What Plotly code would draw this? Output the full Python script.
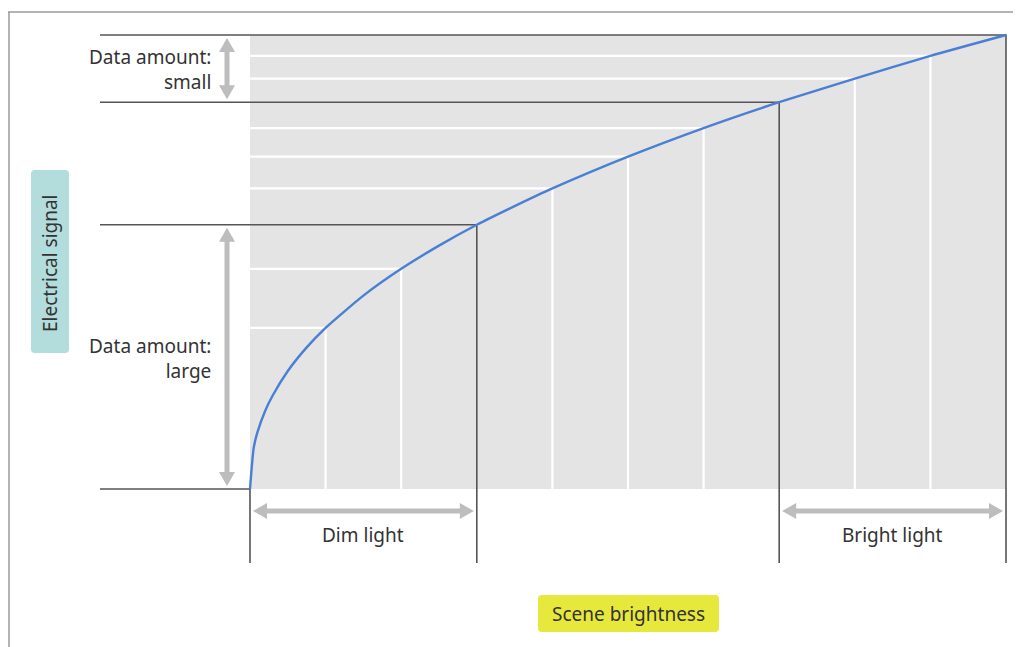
import plotly.graph_objects as go

# ---------------- data ----------------
# scene brightness (0..10, ten equal divisions) vs electrical signal (0..100)
brightness = [0, 0.05, 0.1, 0.2, 0.3, 0.5, 0.75, 1, 1.5, 2, 2.5, 3, 3.5, 4, 5, 6, 7, 8, 9, 10]
signal = [0, 9.2, 12.6, 17.2, 20.6, 26.0, 31.2, 35.5, 42.6, 48.5, 53.6, 58.2, 62.3, 66.2,
          73.2, 79.5, 85.2, 90.4, 95.4, 100]
grid_steps = [1, 2, 3, 4, 5, 6, 7, 8, 9]
dim_limit = 3       # end of "Dim light"
bright_limit = 7    # start of "Bright light"
x_max = 10
y_max = 100

y_label = "Electrical signal"
x_label = "Scene brightness"
small_label = "Data amount:<br>small"
large_label = "Data amount:<br>large"
dim_label = "Dim light"
bright_label = "Bright light"

# ---------------- page geometry ----------------
PAGE_W, PAGE_H = 1021, 647
OFF = 8                      # browser body margin
W, H = PAGE_W - OFF, PAGE_H - OFF
PX_L, PX_R, PX_B, PX_T = 250, 1006, 489, 35
SX = (PX_R - PX_L) / x_max
SY = (PX_B - PX_T) / y_max


def ux(px):
    return (px - PX_L) / SX


def uy(py):
    return (PX_B - py) / SY


def tpx(x):
    return PX_L + x * SX


def tpy(y):
    return PX_B - y * SY


def sig(x):
    return signal[brightness.index(x)]


GRAY = "#e4e4e4"
DARK = "#555555"
ARROW = "#bdbdbd"
TEXT = "#333333"
FONT = "Noto Sans"

fig = go.Figure()
shapes = []
annotations = []

# gray panel
shapes.append(dict(type="rect", x0=0, x1=x_max, y0=0, y1=y_max, fillcolor=GRAY,
                   line=dict(width=0), layer="below"))

# outer frame (top and left)
shapes.append(dict(type="line", x0=ux(8), x1=ux(PAGE_W + 5), y0=uy(12), y1=uy(12),
                   line=dict(color="#9a9a9a", width=1.5)))
shapes.append(dict(type="line", x0=ux(9), x1=ux(9), y0=uy(12), y1=uy(PAGE_H + 5),
                   line=dict(color="#9a9a9a", width=1.5)))

left_ext = ux(100)
bottom_ext = uy(563)

# white grid lines (horizontal to curve, vertical from curve down)
for k in grid_steps:
    if k in (dim_limit, bright_limit):
        continue
    yk = sig(k)
    fig.add_trace(go.Scatter(x=[0, k, k], y=[yk, yk, 0], mode="lines",
                             line=dict(color="white", width=2.2), hoverinfo="skip",
                             showlegend=False))

# dark guide lines
for k in (dim_limit, bright_limit):
    yk = sig(k)
    fig.add_trace(go.Scatter(x=[left_ext, k, k], y=[yk, yk, bottom_ext], mode="lines",
                             line=dict(color=DARK, width=1.6), hoverinfo="skip",
                             showlegend=False))
fig.add_trace(go.Scatter(x=[left_ext, x_max, x_max], y=[y_max, y_max, bottom_ext], mode="lines",
                         line=dict(color=DARK, width=1.6), hoverinfo="skip", showlegend=False))
fig.add_trace(go.Scatter(x=[left_ext, 0, 0], y=[0, 0, bottom_ext], mode="lines",
                         line=dict(color=DARK, width=1.6), hoverinfo="skip", showlegend=False))

# the response curve
fig.add_trace(go.Scatter(x=brightness, y=signal, mode="lines",
                         line=dict(color="#4a7fd6", width=2.4, shape="spline", smoothing=0.6),
                         hoverinfo="skip", showlegend=False))


# double-headed arrows (drawn in pixel space, converted to data units)
def darrow(p0, p1, inset=3, head_len=14, head_w=16, lw=5):
    (x0, y0), (x1, y1) = p0, p1
    L = ((x1 - x0) ** 2 + (y1 - y0) ** 2) ** 0.5
    ux_, uy_ = (x1 - x0) / L, (y1 - y0) / L
    nx, ny = -uy_, ux_
    a = (x0 + ux_ * inset, y0 + uy_ * inset)
    b = (x1 - ux_ * inset, y1 - uy_ * inset)
    shapes.append(dict(type="line",
                       x0=ux(a[0] + ux_ * (head_len - 2)), y0=uy(a[1] + uy_ * (head_len - 2)),
                       x1=ux(b[0] - ux_ * (head_len - 2)), y1=uy(b[1] - uy_ * (head_len - 2)),
                       line=dict(color=ARROW, width=lw)))
    for tip, d in ((a, 1), (b, -1)):
        bx, by = tip[0] + d * ux_ * head_len, tip[1] + d * uy_ * head_len
        pts = [tip, (bx + nx * head_w / 2, by + ny * head_w / 2),
               (bx - nx * head_w / 2, by - ny * head_w / 2)]
        path = "M {} {} L {} {} L {} {} Z".format(
            ux(pts[0][0]), uy(pts[0][1]), ux(pts[1][0]), uy(pts[1][1]),
            ux(pts[2][0]), uy(pts[2][1]))
        shapes.append(dict(type="path", path=path, fillcolor=ARROW, line=dict(width=0)))


ax_px = 227
darrow((ax_px, tpy(y_max)), (ax_px, tpy(sig(bright_limit))))
darrow((ax_px, tpy(sig(dim_limit))), (ax_px, tpy(0)))
ay_px = 511
darrow((tpx(0), ay_px), (tpx(dim_limit), ay_px))
darrow((tpx(bright_limit), ay_px), (tpx(x_max), ay_px))

# text labels
FS = 19
annotations.append(dict(x=ux(213), y=uy(69), text=small_label,
                        xanchor="right", yanchor="middle", align="right", showarrow=False,
                        font=dict(family=FONT, size=FS, color=TEXT)))
annotations.append(dict(x=ux(213), y=uy(358), text=large_label,
                        xanchor="right", yanchor="middle", align="right", showarrow=False,
                        font=dict(family=FONT, size=FS, color=TEXT)))
annotations.append(dict(x=dim_limit / 2, y=uy(535), text=dim_label, xanchor="center",
                        yanchor="middle", showarrow=False,
                        font=dict(family=FONT, size=FS, color=TEXT)))
annotations.append(dict(x=(bright_limit + x_max) / 2, y=uy(535), text=bright_label,
                        xanchor="center", yanchor="middle", showarrow=False,
                        font=dict(family=FONT, size=FS, color=TEXT)))


def rrect(x0, y0, x1, y1, r, color):
    p = ("M {a} {b} L {c} {b} Q {d} {b} {d} {e} L {d} {f} Q {d} {g} {c} {g} "
         "L {a} {g} Q {h} {g} {h} {f} L {h} {e} Q {h} {b} {a} {b} Z").format(
        a=ux(x0 + r), b=uy(y0), c=ux(x1 - r), d=ux(x1), e=uy(y0 + r), f=uy(y1 - r),
        g=uy(y1), h=ux(x0))
    shapes.append(dict(type="path", path=p, fillcolor=color, line=dict(width=0)))


# axis title boxes
rrect(31, 170, 69, 353, 4, "#b3dcdc")
annotations.append(dict(x=ux(50), y=uy(263), text=y_label, textangle=-90, showarrow=False,
                        xanchor="center", yanchor="middle",
                        font=dict(family=FONT, size=19, color=TEXT)))
rrect(538, 595, 719, 632, 4, "#e6e83c")
annotations.append(dict(x=ux(628.5), y=uy(614), text=x_label, showarrow=False,
                        xanchor="center", yanchor="middle",
                        font=dict(family=FONT, size=19, color=TEXT)))

fig.update_layout(
    width=W, height=H, autosize=False,
    margin=dict(l=0, r=0, t=0, b=0),
    paper_bgcolor="white", plot_bgcolor="white",
    xaxis=dict(range=[ux(OFF), ux(PAGE_W)], visible=False, fixedrange=True),
    yaxis=dict(range=[uy(PAGE_H), uy(OFF)], visible=False, fixedrange=True),
    shapes=shapes, annotations=annotations, showlegend=False,
)

fig.write_html("out.html")
